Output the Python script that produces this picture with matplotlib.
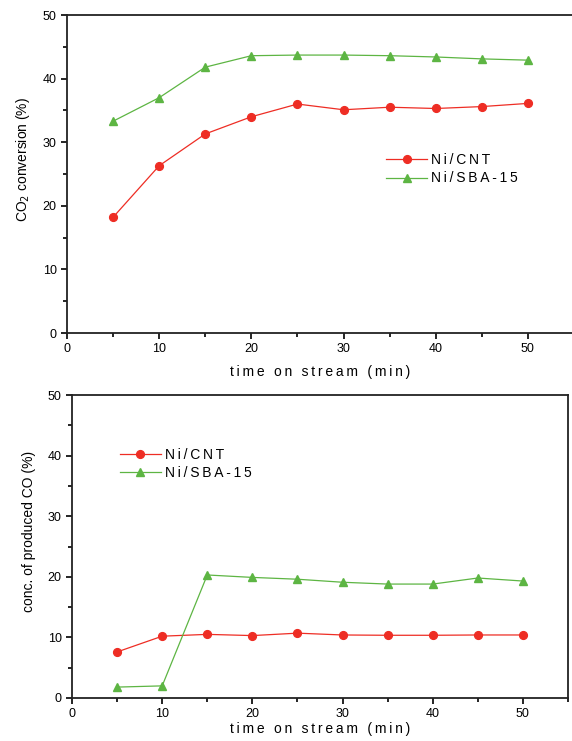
import matplotlib
matplotlib.use("Agg")
import matplotlib.pyplot as plt
from matplotlib.ticker import MultipleLocator

plt.rcParams['font.family'] = ['Liberation Sans', 'DejaVu Sans']

time = [5, 10, 15, 20, 25, 30, 35, 40, 45, 50]
co2_cnt = [18.2, 26.3, 31.3, 34.0, 36.0, 35.1, 35.5, 35.3, 35.6, 36.1]
co2_sba = [33.3, 37.0, 41.8, 43.6, 43.7, 43.7, 43.6, 43.4, 43.1, 42.9]
co_cnt = [7.6, 10.2, 10.5, 10.3, 10.7, 10.4, 10.35, 10.35, 10.4, 10.4]
co_sba = [1.8, 2.0, 20.3, 19.9, 19.6, 19.1, 18.8, 18.8, 19.8, 19.3]

labels = ['Ni/CNT', 'Ni/SBA-15']
xlabel = 'time on stream (min)'
red = '#ee2d24'
green = '#5db543'

TS = '\u2009'
def spaced(s):
    return TS.join(s)

W, H = 572, 741
fig = plt.figure(figsize=(W/100, H/100), dpi=100)

def make_ax(l, r, t, b):
    return fig.add_axes([l/W, 1 - b/H, (r-l)/W, (b-t)/H])

ax1 = make_ax(67, 574, 15, 333)
ax2 = make_ax(72, 568, 395, 698)

def style(ax, ylabel, labelpad, ylab_xy):
    ax.set_xlim(0, 55)
    ax.set_ylim(0, 50)
    ax.xaxis.set_major_locator(MultipleLocator(10))
    ax.xaxis.set_minor_locator(MultipleLocator(5))
    ax.yaxis.set_major_locator(MultipleLocator(10))
    ax.yaxis.set_minor_locator(MultipleLocator(5))
    ax.tick_params(which='both', direction='out', labelsize=9, width=1.2)
    ax.tick_params(which='major', length=4)
    ax.tick_params(which='minor', length=3)
    for s in ax.spines.values():
        s.set_linewidth(1.3)
        s.set_color('#222222')
    ax.set_xlabel(spaced(xlabel), fontsize=10, labelpad=labelpad)
    ax.set_ylabel(ylabel, fontsize=10)
    ax.yaxis.set_label_coords(*ylab_xy)

mk = dict(lw=0.9)
leg = dict(frameon=False, fontsize=10, handlelength=2.9, handletextpad=0.3,
           labelspacing=0.3, borderpad=0.3)

ax1.plot(time, co2_cnt, '-o', color=red, ms=5.6, label=spaced(labels[0]), **mk)
ax1.plot(time, co2_sba, '-^', color=green, ms=6.2, label=spaced(labels[1]), **mk)
style(ax1, 'CO$_2$ conversion (%)', 7, (-0.069, 0.547))
ax1.legend(loc='upper left', bbox_to_anchor=(0.608, 0.6), **leg)

ax2.plot(time, co_cnt, '-o', color=red, ms=5.6, label=spaced(labels[0]), **mk)
ax2.plot(time, co_sba, '-^', color=green, ms=6.2, label=spaced(labels[1]), **mk)
style(ax2, 'conc. of produced CO (%)', 1, (-0.073, 0.551))
ax2.legend(loc='upper left', bbox_to_anchor=(0.075, 0.862), **leg)

fig.savefig('out.png', dpi=100)
